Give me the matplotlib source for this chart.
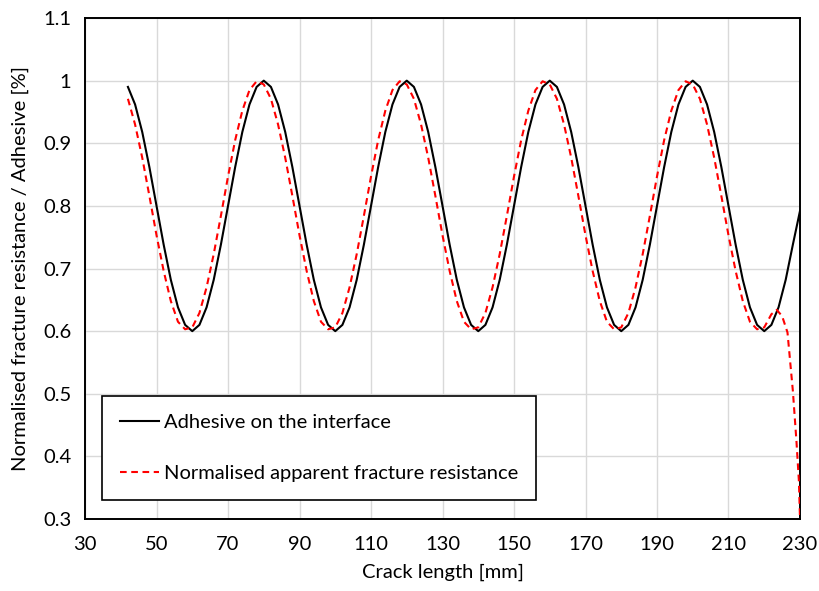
import matplotlib
matplotlib.use("Agg")
import matplotlib.pyplot as plt
import numpy as np

# ---- data ----
crack_x = list(range(42, 231, 2))  # 42 .. 230 mm

adhesive = [
    0.990, 0.962, 0.918, 0.862, 0.800, 0.738, 0.682, 0.638, 0.610, 0.600,
    0.610, 0.638, 0.682, 0.738, 0.800, 0.862, 0.918, 0.962, 0.990, 1.000,
    0.990, 0.962, 0.918, 0.862, 0.800, 0.738, 0.682, 0.638, 0.610, 0.600,
    0.610, 0.638, 0.682, 0.738, 0.800, 0.862, 0.918, 0.962, 0.990, 1.000,
    0.990, 0.962, 0.918, 0.862, 0.800, 0.738, 0.682, 0.638, 0.610, 0.600,
    0.610, 0.638, 0.682, 0.738, 0.800, 0.862, 0.918, 0.962, 0.990, 1.000,
    0.990, 0.962, 0.918, 0.862, 0.800, 0.738, 0.682, 0.638, 0.610, 0.600,
    0.610, 0.638, 0.682, 0.738, 0.800, 0.862, 0.918, 0.962, 0.990, 1.000,
    0.990, 0.962, 0.918, 0.862, 0.800, 0.738, 0.682, 0.638, 0.610, 0.600,
    0.610, 0.638, 0.682, 0.738, 0.792,
]

apparent_x = list(range(42, 223, 2)) + [223.5, 225, 226.5, 228, 229, 229.7, 230]
apparent = [
    0.971, 0.930, 0.877, 0.816, 0.753, 0.696, 0.648, 0.615, 0.603, 0.606,
    0.629, 0.670, 0.723, 0.784, 0.847, 0.905, 0.952, 0.985, 0.999, 0.994,
    0.971, 0.930, 0.877, 0.816, 0.753, 0.696, 0.648, 0.615, 0.603, 0.606,
    0.629, 0.670, 0.723, 0.784, 0.847, 0.905, 0.952, 0.985, 0.999, 0.994,
    0.971, 0.930, 0.877, 0.816, 0.753, 0.696, 0.648, 0.615, 0.603, 0.606,
    0.629, 0.670, 0.723, 0.784, 0.847, 0.905, 0.952, 0.985, 0.999, 0.994,
    0.971, 0.930, 0.877, 0.816, 0.753, 0.696, 0.648, 0.615, 0.603, 0.606,
    0.629, 0.670, 0.723, 0.784, 0.847, 0.905, 0.952, 0.985, 0.999, 0.994,
    0.971, 0.930, 0.877, 0.816, 0.753, 0.696, 0.648, 0.615, 0.603, 0.606,
    0.627,
    0.634, 0.624, 0.598, 0.505, 0.425, 0.360, 0.300,
]

x_ticks = [30, 50, 70, 90, 110, 130, 150, 170, 190, 210, 230]
y_ticks = [0.3, 0.4, 0.5, 0.6, 0.7, 0.8, 0.9, 1.0, 1.1]
y_tick_labels = ["0.3", "0.4", "0.5", "0.6", "0.7", "0.8", "0.9", "1", "1.1"]

label_adhesive = "Adhesive on the interface"
label_apparent = "Normalised apparent fracture resistance"
x_label = "Crack length [mm]"
y_label = "Normalised fracture resistance / Adhesive [%]"

# ---- plotting ----
plt.rcParams["font.family"] = ["Lato", "DejaVu Sans"]
fig = plt.figure(figsize=(8.2, 5.91), dpi=100)
ax = fig.add_axes([0.1037, 0.1218, 0.8719, 0.8477])

ax.plot(crack_x, adhesive, color="black", lw=1.5, label=label_adhesive, zorder=3)
ax.plot(apparent_x, apparent, color="#ff0000", lw=1.5, ls=(0, (3.2, 2.2)),
        label=label_apparent, zorder=4)

ax.set_xlim(30, 230)
ax.set_ylim(0.3, 1.1)
ax.set_xticks(x_ticks)
ax.set_yticks(y_ticks)
ax.set_yticklabels(y_tick_labels)
ax.tick_params(axis="both", length=0, labelsize=14.5, colors="black")
ax.tick_params(axis="x", pad=12)
ax.tick_params(axis="y", pad=10)
ax.grid(True, color="#d9d9d9", lw=1.0, zorder=0)
ax.set_axisbelow(True)
for s in ax.spines.values():
    s.set_color("black")
    s.set_linewidth(1.4)

ax.set_xlabel(x_label, fontsize=14.5, labelpad=8)
ax.set_ylabel(y_label, fontsize=14.5, labelpad=10)

leg = ax.legend(loc="lower left", bbox_to_anchor=(0.024, 0.037), fontsize=14.5,
                frameon=True, fancybox=False, framealpha=1, edgecolor="black",
                labelspacing=1.7, handlelength=1.9, handletextpad=0.25,
                borderpad=0.9, borderaxespad=0)
leg.get_frame().set_linewidth(1.2)

fig.savefig("out.png", dpi=100)
